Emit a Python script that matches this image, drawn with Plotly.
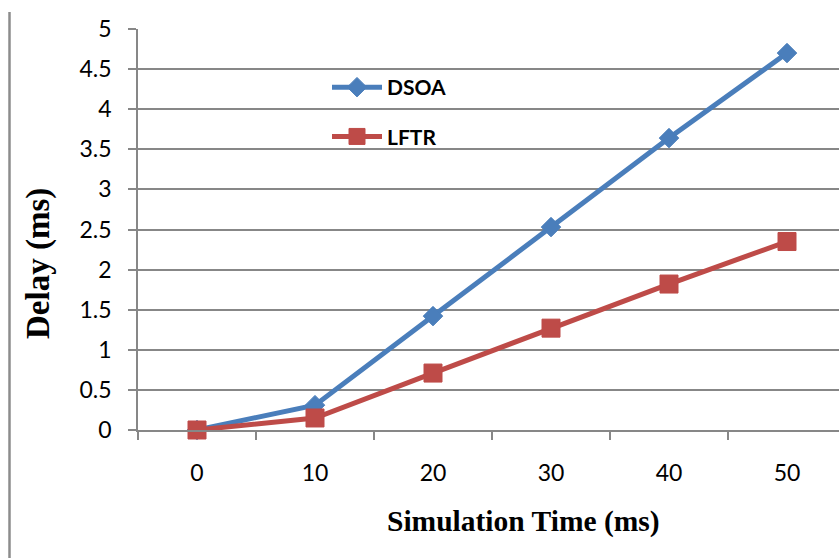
import plotly.graph_objects as go

categories = ["0", "10", "20", "30", "40", "50"]
dsoa = [0.0, 0.31, 1.42, 2.53, 3.64, 4.70]
lftr = [0.0, 0.15, 0.71, 1.27, 1.82, 2.35]
y_ticks = [0, 0.5, 1, 1.5, 2, 2.5, 3, 3.5, 4, 4.5, 5]
y_ticktext = ["0", "0.5", "1", "1.5", "2", "2.5", "3", "3.5", "4", "4.5", "5"]

idx = list(range(len(categories)))

BLUE = "#4A7EBB"
RED = "#BE4B48"
GRID = "#878787"

fig = go.Figure()
fig.add_trace(go.Scatter(
    x=idx, y=dsoa, name="DSOA", mode="lines+markers",
    line=dict(color=BLUE, width=5),
    marker=dict(symbol="diamond", size=15, color=BLUE, line=dict(color=BLUE, width=1)),
    cliponaxis=False, legendgroup="a"))
fig.add_trace(go.Scatter(
    x=idx, y=lftr, name="LFTR", mode="lines+markers",
    line=dict(color=RED, width=5),
    marker=dict(symbol="square", size=18, color=RED, line=dict(color=RED, width=1)),
    cliponaxis=False, legendgroup="b"))

L, R, T, B = 138, 0, 29, 128
W, H = 839, 558
pw = W - L - R
ph = H - T - B
cat_px = 118.0

def px_x(p):
    return (p - L) / pw

def px_y(p):
    return (H - B - p) / ph

fig.update_layout(
    width=W, height=H,
    margin=dict(l=L, r=R, t=T, b=B, pad=0),
    paper_bgcolor="white", plot_bgcolor="white",
    showlegend=True,
    legend=dict(x=px_x(327), y=px_y(67), xanchor="left", yanchor="top",
                bgcolor="rgba(0,0,0,0)", borderwidth=0,
                font=dict(family="Lato", size=21, color="black", weight="bold"),
                tracegroupgap=19, traceorder="grouped", itemwidth=50),
    xaxis=dict(
        range=[-0.5, -0.5 + pw / cat_px],
        tickvals=idx, ticktext=categories,
        ticks="", showgrid=False, zeroline=False,
        showline=True, linecolor=GRID, linewidth=1.5,
        tickfont=dict(family="Lato", size=23, color="black"),
        ticklabelstandoff=22,
        minor=dict(ticks="outside", ticklen=8, tickcolor=GRID, tickwidth=1.5,
                   tick0=-0.5, dtick=1, showgrid=False),
    ),
    yaxis=dict(
        range=[0, 5], tickvals=y_ticks, ticktext=y_ticktext,
        ticks="outside", ticklen=8, tickcolor=GRID, tickwidth=1.5,
        showgrid=True, gridcolor=GRID, gridwidth=1.5,
        zeroline=False, showline=True, linecolor=GRID, linewidth=1.5,
        tickfont=dict(family="Lato", size=23, color="black"),
        ticklabelstandoff=12,
    ),
)

fig.add_annotation(x=px_x(523), y=px_y(521), xref="paper", yref="paper",
                   text="<b>Simulation Time (ms)</b>", showarrow=False,
                   xanchor="center", yanchor="middle",
                   font=dict(family="Liberation Serif", size=29.5, color="black"))
fig.add_annotation(x=px_x(38), y=px_y(264), xref="paper", yref="paper",
                   text="<b>Delay (ms)</b>", showarrow=False, textangle=-90,
                   xanchor="center", yanchor="middle",
                   font=dict(family="Liberation Serif", size=33, color="black"))

fig.add_shape(type="line", xref="paper", yref="paper",
              x0=px_x(9.5), x1=px_x(9.5), y0=px_y(12), y1=px_y(560),
              line=dict(color="#8c8c8c", width=2.5))

fig.write_html("out.html")
